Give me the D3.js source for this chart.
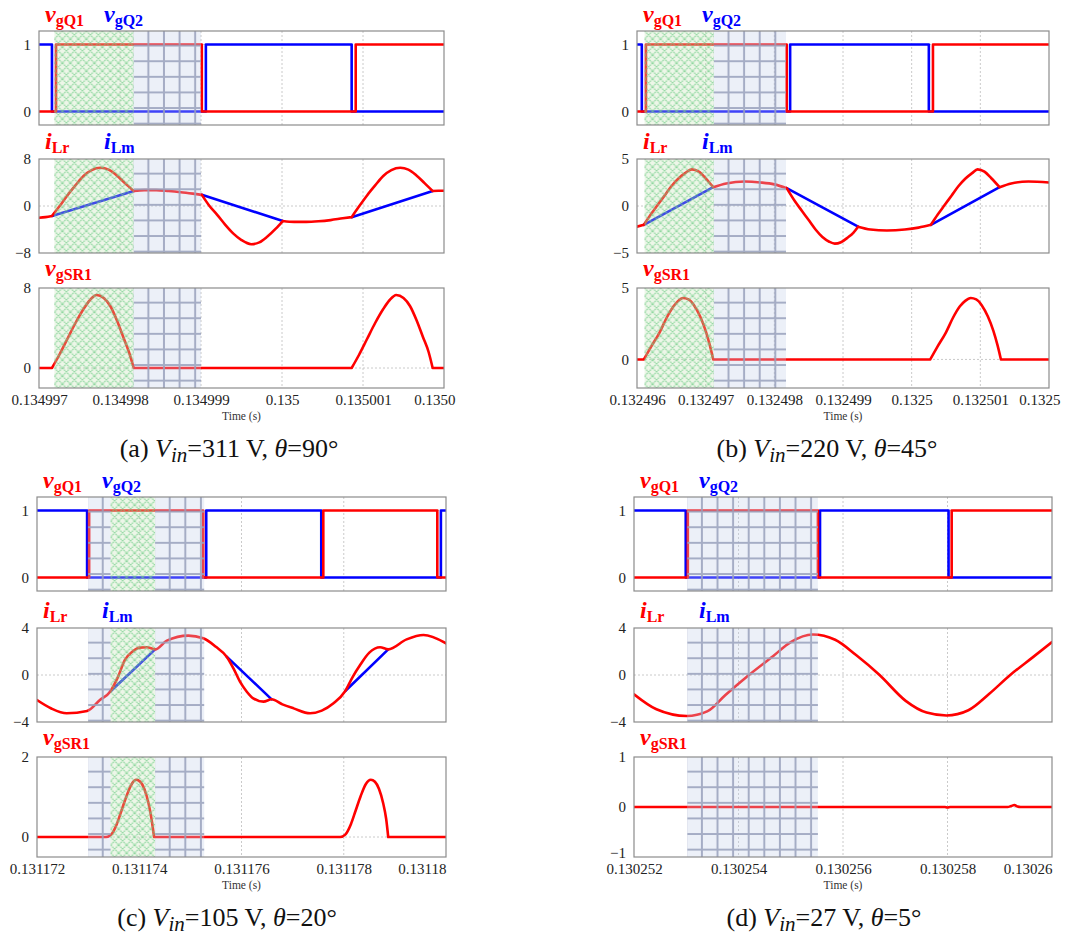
<!DOCTYPE html>
<html>
<head>
<meta charset="utf-8">
<script src="https://cdn.jsdelivr.net/npm/d3@7"></script>
<style>
  body { margin: 0; background: #fff; }
  svg { display: block; font-family: "Liberation Serif", "Times New Roman", serif; }
</style>
</head>
<body>
<svg id="chart" width="1070" height="936"></svg>
<script>
// ---- data: time in microseconds from the first tick ----

// (a) Vin=311 V
const xLabelsA = ["0.134997", "0.134998", "0.134999", "0.135", "0.135001", "0.1350"];
const vgQ1A = [[0, 0], [0.21, 1], [2.01, 0], [3.91, 1], [5, 1]];
const vgQ2A = [[0, 1], [0.16, 0], [2.06, 1], [3.86, 0], [5, 0]];
const iLrA = [[0, -2.0], [0.08, -1.9], [0.16, -1.7], null,
  [0.16, -1.7], [0.25, -0.1], [0.35, 1.8], [0.45, 3.5], [0.55, 5.1], [0.65, 6.1], [0.76, 6.5], [0.86, 6.2], [0.96, 5.2], [1.06, 3.9], [1.17, 2.55], null,
  [1.17, 2.55], [1.3, 2.7], [1.45, 2.7], [1.6, 2.55], [1.75, 2.35], [1.9, 2.1], [2.01, 1.9], null,
  [2.01, 1.9], [2.1, 0.1], [2.2, -1.5], [2.3, -3.2], [2.4, -4.7], [2.5, -5.8], [2.62, -6.5], [2.72, -6.2], [2.82, -5.2], [2.92, -3.9], [3.01, -2.55], null,
  [3.01, -2.55], [3.15, -2.7], [3.3, -2.7], [3.45, -2.6], [3.6, -2.4], [3.75, -2.1], [3.86, -1.9], null,
  [3.86, -1.9], [3.95, -0.1], [4.05, 1.8], [4.15, 3.5], [4.25, 5.1], [4.35, 6.1], [4.46, 6.5], [4.56, 6.2], [4.66, 5.2], [4.76, 3.9], [4.86, 2.55], null,
  [4.86, 2.55], [4.93, 2.6], [5, 2.6]];
const iLmA = [[0.16, -1.7], [1.17, 2.55], null, [2.01, 1.9], [3.01, -2.55], null, [3.86, -1.9], [4.86, 2.55]];
const vgSR1A = [[0, 0], [0.16, 0], null,
  [0.16, 0], [0.25, 1.3], [0.35, 2.9], [0.45, 4.5], [0.55, 5.9], [0.63, 6.8], [0.71, 7.3], [0.8, 7.0], [0.88, 6.2], [0.96, 4.8], [1.04, 3.1], [1.11, 1.6], [1.17, 0], null,
  [1.17, 0], [3.86, 0], null,
  [3.86, 0], [3.95, 1.3], [4.05, 2.9], [4.15, 4.5], [4.25, 5.9], [4.33, 6.8], [4.41, 7.3], [4.5, 7.0], [4.58, 6.2], [4.66, 4.8], [4.74, 3.1], [4.81, 1.6], [4.86, 0], null,
  [4.86, 0], [5, 0]];
const shadeA = [["green", 0.19, 1.17], ["blue", 1.17, 2.0]];

// (b) Vin=220 V
const xLabelsB = ["0.132496", "0.132497", "0.132498", "0.132499", "0.1325", "0.132501", "0.1325"];
const vgQ1B = [[0, 0], [0.13, 1], [2.18, 0], [4.31, 1], [6, 1]];
const vgQ2B = [[0, 1], [0.07, 0], [2.23, 1], [4.25, 0], [6, 0]];
const iLrB = [[0, -2.2], [0.10, -2.0], null,
  [0.10, -2.0], [0.2, -0.9], [0.3, 0.1], [0.4, 1.1], [0.5, 2.1], [0.6, 2.9], [0.7, 3.5], [0.8, 3.9], [0.9, 3.65], [1.0, 2.95], [1.11, 2.0], null,
  [1.11, 2.0], [1.3, 2.4], [1.57, 2.6], [1.8, 2.5], [2.0, 2.3], [2.18, 1.9], null,
  [2.18, 1.9], [2.3, 0.5], [2.4, -0.5], [2.5, -1.5], [2.6, -2.5], [2.7, -3.3], [2.8, -3.8], [2.88, -4.0], [2.97, -3.85], [3.07, -3.35], [3.15, -2.85], [3.22, -2.2], null,
  [3.22, -2.2], [3.4, -2.5], [3.64, -2.6], [3.9, -2.5], [4.1, -2.3], [4.28, -2.0], null,
  [4.28, -2.0], [4.38, -0.9], [4.48, 0.1], [4.58, 1.1], [4.68, 2.1], [4.78, 2.9], [4.88, 3.5], [4.96, 3.9], [5.06, 3.65], [5.16, 2.95], [5.28, 2.0], null,
  [5.28, 2.0], [5.45, 2.4], [5.7, 2.6], [6, 2.5]];
const iLmB = [[0.10, -2.0], [1.11, 2.0], null, [2.18, 1.9], [3.22, -2.2], null, [4.28, -2.0], [5.28, 2.0]];
const vgSR1B = [[0, 0], [0.10, 0], null,
  [0.10, 0], [0.2, 0.85], [0.33, 1.9], [0.43, 2.9], [0.53, 3.7], [0.6, 4.1], [0.67, 4.3], [0.75, 4.2], [0.83, 3.8], [0.92, 3.0], [1.0, 2.0], [1.06, 1.0], [1.11, 0], null,
  [1.11, 0], [4.27, 0], null,
  [4.27, 0], [4.37, 0.85], [4.5, 1.9], [4.6, 2.9], [4.7, 3.7], [4.78, 4.1], [4.86, 4.3], [4.94, 4.2], [5.02, 3.8], [5.11, 3.0], [5.19, 2.0], [5.25, 1.0], [5.30, 0], null,
  [5.30, 0], [6, 0]];
const shadeB = [["green", 0.11, 1.12], ["blue", 1.12, 2.17]];

// (c) Vin=105 V
const xLabelsC = ["0.131172", "0.131174", "0.131176", "0.131178", "0.13118"];
const vgQ1C = [[0, 0], [1.02, 1], [3.25, 0], [5.60, 1], [7.83, 0], [8, 0]];
const vgQ2C = [[0, 1], [0.98, 0], [3.31, 1], [5.56, 0], [7.90, 1], [8, 1]];
const iLrC = [[0, -2.13], [0.28, -2.85], [0.58, -3.26], [0.98, -3.06], [1.23, -2.13], [1.43, -1.42], [1.58, -0.2], [1.72, 1.28], [1.87, 2.0],
  [2.01, 2.33], [2.15, 2.36], [2.31, 2.18], [2.54, 2.92], [2.96, 3.35], [3.25, 3.12], [3.5, 2.4], [3.71, 1.56], [3.85, 0.5], [3.97, -0.57],
  [4.1, -1.4], [4.23, -1.99], [4.43, -2.27], [4.59, -2.07], [4.8, -2.5], [5.02, -2.84], [5.34, -3.26], [5.57, -3.03], [5.8, -2.41],
  [6.03, -1.36], [6.17, -0.2], [6.32, 0.85], [6.5, 1.9], [6.71, 2.36], [6.87, 2.18], [7.23, 3.03], [7.56, 3.4], [8, 2.7]];
const iLmC = [[1.43, -1.42], [2.31, 2.18], null, [3.71, 1.56], [4.59, -2.07], null, [6.03, -1.36], [6.87, 2.18]];
const vgSR1C = [[0, 0], [1.35, 0], [1.45, 0.06], [1.56, 0.32], [1.65, 0.65], [1.75, 1.02], [1.85, 1.32], [1.94, 1.43], [2.02, 1.38], [2.1, 1.2], [2.18, 0.85], [2.24, 0.45], [2.29, 0], null,
  [2.29, 0], [5.93, 0], [6.03, 0.06], [6.14, 0.32], [6.23, 0.65], [6.33, 1.02], [6.43, 1.32], [6.53, 1.43], [6.61, 1.38], [6.69, 1.2], [6.77, 0.85], [6.83, 0.45], [6.87, 0], null,
  [6.87, 0], [8, 0]];
const shadeC = [["blue", 1.0, 1.44], ["green", 1.44, 2.31], ["blue", 2.31, 3.27]];

// (d) Vin=27 V
const xLabelsD = ["0.130252", "0.130254", "0.130256", "0.130258", "0.13026"];
const vgQ1D = [[0, 0], [1.03, 1], [3.52, 0], [6.08, 1], [8, 1]];
const vgQ2D = [[0, 1], [0.99, 0], [3.56, 1], [6.02, 0], [8, 0]];
const iLrD = [[0, -1.64], [0.43, -2.92], [1.01, -3.49], [1.4, -3.1], [1.75, -1.7], [2.2, 0], [2.66, 1.6], [3.0, 2.8], [3.42, 3.45], [3.85, 3.0],
  [4.25, 1.7], [4.7, 0], [5.2, -2.2], [5.6, -3.2], [5.98, -3.45], [6.4, -3.0], [6.8, -1.6], [7.2, 0], [7.63, 1.5], [8, 2.8]];
const iLmD = [];
const vgSR1D = [[0, 0], [5.95, 0], [6.0, -0.01], [6.05, 0], [7.15, 0], [7.22, 0.02], [7.28, 0.04], [7.34, 0.01], [7.4, 0], [8, 0]];
const shadeD = [["blue", 1.02, 3.52]];

const captionIds = ["a", "b", "c", "d"];
const captionVin = [311, 220, 105, 27];
const captionTheta = [90, 45, 20, 5];

// ---- layout ----
const heights = [94, 94, 100];
const panels = [
  { left: 39, right: 444, tops: [31, 159, 288], xMax: 5, labels: xLabelsA, lastDx: 11,
    q1: vgQ1A, q2: vgQ2A, ilr: iLrA, ilm: iLmA, sr: vgSR1A, shade: shadeA,
    yDom: [[-0.2, 1.2], [-8, 8], [-2, 8]], yTicks: [[0, 1], [-8, 0, 8], [0, 8]] },
  { left: 637, right: 1049, tops: [31, 159, 288], xMax: 6, labels: xLabelsB, lastDx: 11,
    q1: vgQ1B, q2: vgQ2B, ilr: iLrB, ilm: iLmB, sr: vgSR1B, shade: shadeB,
    yDom: [[-0.2, 1.2], [-5, 5], [-2, 5]], yTicks: [[0, 1], [-5, 0, 5], [0, 5]] },
  { left: 37, right: 446, tops: [497, 628, 757], xMax: 8, labels: xLabelsC, lastDx: 0,
    q1: vgQ1C, q2: vgQ2C, ilr: iLrC, ilm: iLmC, sr: vgSR1C, shade: shadeC,
    yDom: [[-0.2, 1.2], [-4, 4], [-0.5, 2]], yTicks: [[0, 1], [-4, 0, 4], [0, 2]] },
  { left: 634, right: 1052, tops: [497, 628, 757], xMax: 8, labels: xLabelsD, lastDx: 0,
    q1: vgQ1D, q2: vgQ2D, ilr: iLrD, ilm: iLmD, sr: vgSR1D, shade: shadeD,
    yDom: [[-0.2, 1.2], [-4, 4], [-1, 1]], yTicks: [[0, 1], [-4, 0, 4], [-1, 0, 1]] }
];

const RED = "#ff0000", BLUE = "#0000ff";

const svg = d3.select("#chart");
const defs = svg.append("defs");

const hatch = defs.append("pattern").attr("id", "hatch")
  .attr("patternUnits", "userSpaceOnUse").attr("width", 8).attr("height", 8);
hatch.append("path").attr("d", "M0,0L8,8M8,0L0,8")
  .attr("stroke", "#6fcd86").attr("stroke-width", 1.2).attr("stroke-dasharray", "1.6,0.7");

const grid = defs.append("pattern").attr("id", "grid")
  .attr("patternUnits", "userSpaceOnUse").attr("width", 15.6).attr("height", 15.6);
grid.append("path").attr("d", "M14.6,0V15.6M0,14.6H15.6")
  .attr("stroke", "#99a1bc").attr("stroke-width", 2);

function label(x, y, main, sub, color) {
  const t = svg.append("text").attr("x", x).attr("y", y)
    .attr("fill", color).style("font-weight", "bold");
  t.append("tspan").text(main).style("font-style", "italic").style("font-size", "24px");
  t.append("tspan").text(sub).style("font-size", "16px").attr("dy", 4);
}

panels.forEach((p, pi) => {
  const x = d3.scaleLinear().domain([0, p.xMax]).range([p.left, p.right]);
  const step = p.xMax / (p.labels.length - 1);
  const tickVals = d3.range(p.labels.length).map(i => i * step);

  const rows = [
    [{ data: p.q2, color: BLUE, curve: d3.curveStepAfter }, { data: p.q1, color: RED, curve: d3.curveStepAfter }],
    [{ data: p.ilm, color: BLUE, curve: d3.curveLinear }, { data: p.ilr, color: RED, curve: d3.curveMonotoneX }],
    [{ data: p.sr, color: RED, curve: d3.curveMonotoneX }]
  ];

  rows.forEach((series, r) => {
    const top = p.tops[r], h = heights[r];
    const y = d3.scaleLinear().domain(p.yDom[r]).range([top + h, top]);
    const clipId = `clip${pi}${r}`;
    defs.append("clipPath").attr("id", clipId).append("rect")
      .attr("x", p.left).attr("y", top).attr("width", p.right - p.left).attr("height", h);

    const g = svg.append("g").attr("clip-path", `url(#${clipId})`);

    // dotted grid
    g.selectAll(".vg").data(tickVals.slice(1, -1)).join("line")
      .attr("x1", d => x(d)).attr("x2", d => x(d)).attr("y1", top).attr("y2", top + h)
      .attr("stroke", "#c4c4c4").attr("stroke-width", 0.9).attr("stroke-dasharray", "2,2");
    g.selectAll(".hg").data(p.yTicks[r].filter(v => v > p.yDom[r][0] && v < p.yDom[r][1])).join("line")
      .attr("x1", p.left).attr("x2", p.right).attr("y1", d => y(d)).attr("y2", d => y(d))
      .attr("stroke", "#c4c4c4").attr("stroke-width", 0.9).attr("stroke-dasharray", "2,2");

    // traces
    series.forEach(s => {
      if (!s.data.length) return;
      const line = d3.line().defined(d => d !== null)
        .x(d => x(d[0])).y(d => y(d[1])).curve(s.curve);
      g.append("path").attr("d", line(s.data))
        .attr("fill", "none").attr("stroke", s.color).attr("stroke-width", 2.6)
        .attr("stroke-linejoin", "round").attr("stroke-linecap", "round");
    });

    // shaded intervals (drawn over the traces, semi transparent)
    p.shade.forEach(([kind, t0, t1]) => {
      const sg = g.append("g").attr("transform", `translate(${x(t0)},${top})`);
      const w = x(t1) - x(t0);
      sg.append("rect").attr("width", w).attr("height", h)
        .attr("fill", kind === "green" ? "#c6e2b8" : "#c4d0ea").attr("fill-opacity", 0.32);
      sg.append("rect").attr("width", w).attr("height", h)
        .attr("fill", kind === "green" ? "url(#hatch)" : "url(#grid)")
        .attr("opacity", kind === "green" ? 0.75 : 0.85);
    });

    // frame
    svg.append("rect").attr("x", p.left).attr("y", top)
      .attr("width", p.right - p.left).attr("height", h)
      .attr("fill", "none").attr("stroke", "#8c8c8c").attr("stroke-width", 1.2);

    // y axis
    const ya = svg.append("g").attr("transform", `translate(${p.left},0)`)
      .call(d3.axisLeft(y).tickValues(p.yTicks[r]).tickSize(0).tickPadding(8).tickFormat(d3.format("d")));
    ya.select(".domain").remove();
    ya.selectAll("text").style("font-family", "Liberation Serif, serif").style("font-size", "15px").attr("fill", "#222");
    // lift a bottom-edge label a little so it clears the time labels below
    if (r === 2) ya.selectAll("text").filter(d => d === p.yDom[r][0]).attr("dy", "0.05em");

    // x axis on the bottom plot
    if (r === 2) {
      const xa = svg.append("g").attr("transform", `translate(0,${top + h})`)
        .call(d3.axisBottom(x).tickValues(tickVals).tickSize(0).tickPadding(6)
          .tickFormat((d, i) => p.labels[i]));
      xa.select(".domain").remove();
      xa.selectAll("text").style("font-family", "Liberation Serif, serif").style("font-size", "15px").attr("fill", "#222");
      xa.selectAll("text").filter((d, i) => i === tickVals.length - 1)
        .attr("text-anchor", "end").attr("dx", p.lastDx);

      svg.append("text").attr("x", (p.left + p.right) / 2).attr("y", top + h + 32)
        .attr("text-anchor", "middle").style("font-size", "11.5px").attr("fill", "#333")
        .text("Time (s)");
    }
  });

  // trace labels
  label(p.left + 6, p.tops[0] - 9, "v", "gQ1", RED);
  label(p.left + 65, p.tops[0] - 9, "v", "gQ2", BLUE);
  label(p.left + 6, p.tops[1] - 10, "i", "Lr", RED);
  label(p.left + 65, p.tops[1] - 10, "i", "Lm", BLUE);
  label(p.left + 6, p.tops[2] - 12, "v", "gSR1", RED);

  // caption
  const cap = svg.append("text")
    .attr("x", p.left + 190).attr("y", p.tops[2] + heights[2] + 69)
    .attr("text-anchor", "middle").style("font-size", "26px").attr("fill", "#111");
  cap.append("tspan").text(`(${captionIds[pi]}) `);
  cap.append("tspan").text("V").style("font-style", "italic");
  cap.append("tspan").text("in").style("font-style", "italic").style("font-size", "21px").attr("dy", 5);
  cap.append("tspan").text(`=${captionVin[pi]} V, `).attr("dy", -5);
  cap.append("tspan").text("θ").style("font-style", "italic");
  cap.append("tspan").text(`=${captionTheta[pi]}°`);
});
</script>
</body>
</html>
